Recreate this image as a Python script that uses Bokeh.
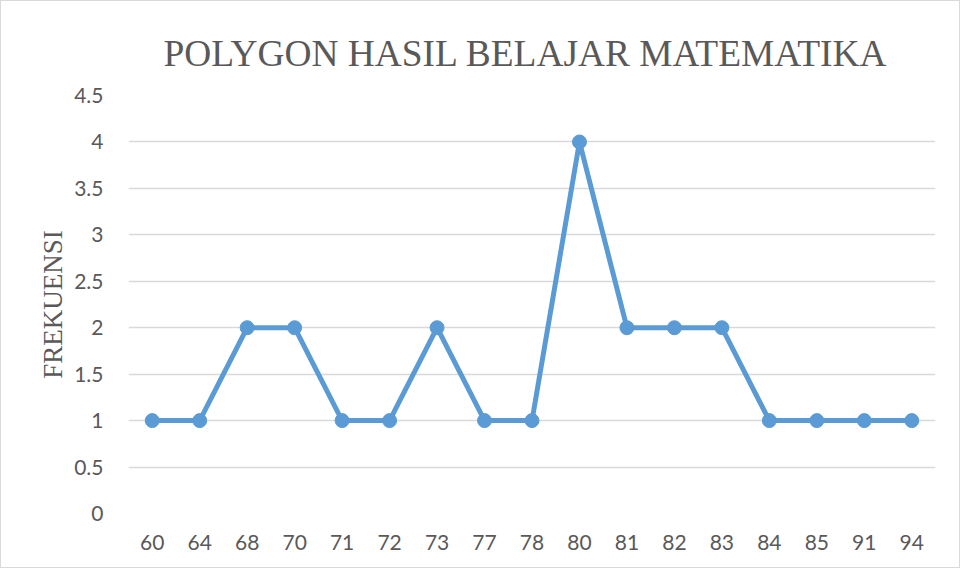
from bokeh.plotting import figure
from bokeh.models import FactorRange, Range1d, ColumnDataSource, FixedTicker
from bokeh.embed import file_html
from bokeh.resources import INLINE

nilai = ["60", "64", "68", "70", "71", "72", "73", "77", "78", "80", "81", "82", "83", "84", "85", "91", "94"]
frekuensi = [1, 1, 2, 2, 1, 1, 2, 1, 1, 4, 2, 2, 2, 1, 1, 1, 1]
y_ticks = [0, 0.5, 1, 1.5, 2, 2.5, 3, 3.5, 4, 4.5]
judul = "POLYGON HASIL BELAJAR MATEMATIKA"
label_y = "FREKUENSI"

src = ColumnDataSource(dict(x=nilai, y=frekuensi))

p = figure(x_range=FactorRange(*nilai, range_padding=0), y_range=Range1d(0, 4.5),
           width=960, height=568, output_backend="svg", toolbar_location=None,
           min_border_left=127, min_border_right=26, min_border_top=94, min_border_bottom=56,
           styles={"border": "1px solid #d9d9d9"})
p.outline_line_color = None
p.background_fill_color = "white"
p.border_fill_color = "white"

p.line("x", "y", source=src, line_color="#5b9bd5", line_width=5)
p.scatter("x", "y", source=src, size=14, fill_color="#5b9bd5", line_color="#5b9bd5")

p.xgrid.grid_line_color = None
p.ygrid.grid_line_color = "#d9d9d9"
p.ygrid.grid_line_width = 1.5
p.yaxis.ticker = FixedTicker(ticks=y_ticks)
p.yaxis.major_label_overrides = {0: "0", 1: "1", 2: "2", 3: "3", 4: "4"}

for ax in (p.xaxis[0], p.yaxis[0]):
    ax.axis_line_color = None
    ax.major_tick_line_color = None
    ax.minor_tick_line_color = None
    ax.major_label_text_font = "Lato"
    ax.major_label_text_font_size = "21px"
    ax.major_label_text_color = "#595959"
p.yaxis.major_label_standoff = 19
p.xaxis.major_label_standoff = 15

p.yaxis.axis_label = label_y
p.yaxis.axis_label_text_font = "Liberation Serif"
p.yaxis.axis_label_text_font_style = "normal"
p.yaxis.axis_label_text_font_size = "27px"
p.yaxis.axis_label_text_color = "#595959"
p.yaxis.axis_label_standoff = 3

p.title.text = judul
p.title.align = "left"
p.title.offset = 35
p.title.text_font = "Liberation Serif"
p.title.text_font_style = "normal"
p.title.text_font_size = "37.4px"
p.title.text_color = "#595959"
p.title.standoff = 44

open("out.html", "w").write(file_html(p, INLINE))
